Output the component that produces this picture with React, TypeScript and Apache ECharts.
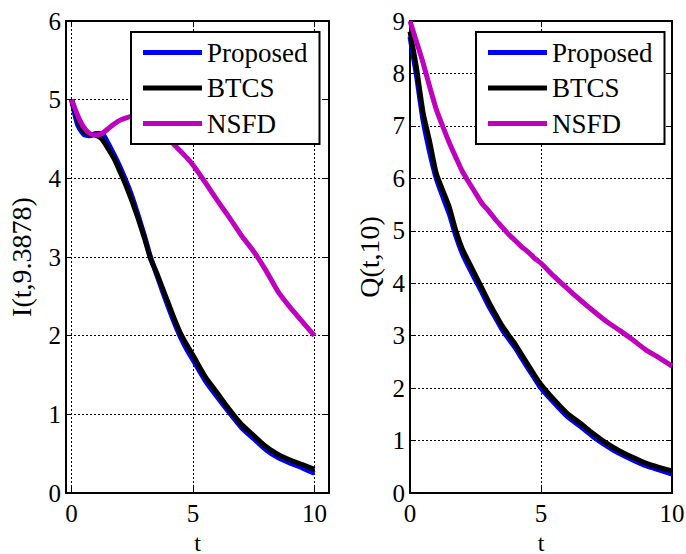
import React, { useEffect, useRef } from "react";
import * as echarts from "echarts";

const tValues = [0, 0.25, 0.5, 0.75, 1, 1.25, 1.5, 1.75, 2, 2.25, 2.5, 2.75, 3, 3.25, 3.5, 3.75, 4, 4.25, 4.5, 4.75, 5, 5.5, 6, 6.5, 7, 7.5, 8, 8.5, 9, 9.5, 10];

const proposedI = [5.0, 4.68, 4.56, 4.54, 4.57, 4.57, 4.45, 4.3, 4.14, 3.96, 3.76, 3.52, 3.27, 3.0, 2.78, 2.56, 2.35, 2.15, 1.97, 1.82, 1.69, 1.43, 1.22, 1.02, 0.83, 0.69, 0.55, 0.45, 0.38, 0.32, 0.25];
const btcsI = [5.0, 4.75, 4.6, 4.56, 4.55, 4.5, 4.38, 4.25, 4.08, 3.9, 3.7, 3.48, 3.24, 2.98, 2.8, 2.6, 2.4, 2.2, 2.02, 1.88, 1.75, 1.48, 1.27, 1.06, 0.87, 0.73, 0.59, 0.49, 0.42, 0.36, 0.3];
const nsfdI = [5.0, 4.8, 4.65, 4.57, 4.55, 4.57, 4.63, 4.69, 4.74, 4.77, 4.79, 4.77, 4.72, 4.67, 4.62, 4.56, 4.5, 4.42, 4.34, 4.26, 4.17, 3.95, 3.72, 3.5, 3.27, 3.07, 2.83, 2.56, 2.36, 2.18, 2.0];

const proposedQ = [8.7, 7.95, 7.1, 6.5, 6.0, 5.65, 5.32, 4.9, 4.56, 4.3, 4.06, 3.82, 3.57, 3.35, 3.13, 2.95, 2.78, 2.58, 2.38, 2.19, 2.0, 1.72, 1.46, 1.27, 1.07, 0.9, 0.75, 0.63, 0.52, 0.44, 0.36];
const btcsQ = [8.8, 8.1, 7.25, 6.7, 6.1, 5.77, 5.45, 5.0, 4.65, 4.4, 4.15, 3.9, 3.65, 3.42, 3.2, 3.02, 2.85, 2.65, 2.45, 2.25, 2.07, 1.78, 1.52, 1.33, 1.13, 0.95, 0.8, 0.68, 0.57, 0.49, 0.42];
const nsfdQ = [9.0, 8.6, 8.2, 7.75, 7.32, 6.99, 6.68, 6.4, 6.13, 5.92, 5.72, 5.52, 5.38, 5.22, 5.08, 4.94, 4.82, 4.7, 4.6, 4.48, 4.38, 4.13, 3.9, 3.68, 3.47, 3.27, 3.1, 2.92, 2.73, 2.58, 2.42];

const seriesNames = ["Proposed", "BTCS", "NSFD"];
const seriesColors = ["#0000FF", "#000000", "#BF00BF"];
const xTicks = [0, 5, 10];
const yLabelLeft = "I(t,9.3878)";
const yLabelRight = "Q(t,10)";
const xLabel = "t";

const FONT = "Liberation Serif";

export default function App() {
  const ref = useRef<HTMLDivElement>(null);
  useEffect(() => {
    if (!ref.current) return;
    const chart = echarts.init(ref.current, undefined, { renderer: "svg" });
    const toPairs = (vals: number[]) => tValues.map((t, i) => [t, vals[i]]);
    const gridDefs = [
      { left: 66, top: 21, width: 263, height: 472 },
      { left: 410, top: 21, width: 262, height: 472 },
    ];
    const xRanges = [
      { min: -0.23, max: 10.6 },
      { min: 0, max: 10 },
    ];
    const yRanges = [
      { min: 0, max: 6 },
      { min: 0, max: 9 },
    ];
    const axisLine = { show: true, onZero: false, lineStyle: { color: "#000", width: 2 } };
    const tick = { show: true, inside: true, length: 6, lineStyle: { color: "#000", width: 1 } };
    const split = { show: true, lineStyle: { color: "#000", width: 1, type: [2, 2] as any } };
    const labelStyle = { color: "#000", fontFamily: FONT, fontSize: 25 };
    const nameStyle = { color: "#000", fontFamily: FONT, fontSize: 28 };

    const xAxis: any[] = [];
    const yAxis: any[] = [];
    [0, 1].forEach((g) => {
      xAxis.push({
        type: "value",
        gridIndex: g,
        position: "bottom",
        min: xRanges[g].min,
        max: xRanges[g].max,
        axisLine,
        axisTick: { ...tick, customValues: xTicks },
        axisLabel: { ...labelStyle, margin: 8, customValues: xTicks },
        splitLine: split,
        name: xLabel,
        nameLocation: "middle",
        nameGap: 30,
        nameTextStyle: { ...nameStyle, fontSize: 24, lineHeight: 24 },
      });
      xAxis.push({
        type: "value",
        gridIndex: g,
        position: "top",
        min: xRanges[g].min,
        max: xRanges[g].max,
        axisLine,
        axisTick: { ...tick, customValues: xTicks },
        axisLabel: { show: false, customValues: xTicks },
        splitLine: { show: false },
      });
      yAxis.push({
        type: "value",
        gridIndex: g,
        position: "left",
        min: yRanges[g].min,
        max: yRanges[g].max,
        interval: 1,
        axisLine,
        axisTick: tick,
        axisLabel: { ...labelStyle, margin: 5 },
        splitLine: split,
        name: g === 0 ? yLabelLeft : yLabelRight,
        nameLocation: "middle",
        nameGap: g === 0 ? 31 : 27,
        nameTextStyle: { ...nameStyle },
      });
      yAxis.push({
        type: "value",
        gridIndex: g,
        position: "right",
        min: yRanges[g].min,
        max: yRanges[g].max,
        interval: 1,
        axisLine,
        axisTick: tick,
        axisLabel: { show: false },
        splitLine: { show: false },
      });
    });

    const dataSets = [
      [proposedI, btcsI, nsfdI],
      [proposedQ, btcsQ, nsfdQ],
    ];
    const series: any[] = [];
    [0, 1].forEach((g) => {
      dataSets[g].forEach((vals, k) => {
        series.push({
          type: "line",
          name: seriesNames[k],
          xAxisIndex: g * 2,
          yAxisIndex: g * 2,
          data: toPairs(vals),
          symbol: "none",
          showSymbol: false,
          smooth: 0.2,
          lineStyle: { color: seriesColors[k], width: 5 },
          itemStyle: { color: seriesColors[k] },
          clip: true,
        });
      });
    });

    const legendBase = {
      orient: "vertical",
      selectedMode: false,
      data: seriesNames.map((n) => ({ name: n, icon: "rect" })),
      backgroundColor: "#fff",
      borderColor: "#000",
      borderWidth: 2,
      padding: [7, 12, 7, 12],
      itemWidth: 59,
      itemHeight: 5,
      itemGap: 8.5,
      textStyle: { color: "#000", fontFamily: FONT, fontSize: 27, lineHeight: 26 },
    };

    chart.setOption({
      animation: false,
      backgroundColor: "#fff",
      textStyle: { fontFamily: FONT },
      grid: gridDefs.map((d) => ({ ...d, containLabel: false, outerBoundsMode: "none" })),
      xAxis,
      yAxis,
      legend: [
        { ...legendBase, left: 131, top: 32 },
        { ...legendBase, left: 476, top: 32 },
      ],
      series,
    });
    return () => chart.dispose();
  }, []);
  return (
    <div
      ref={ref}
      style={{ position: "fixed", left: 0, top: 0, width: 686, height: 554 }}
    />
  );
}
